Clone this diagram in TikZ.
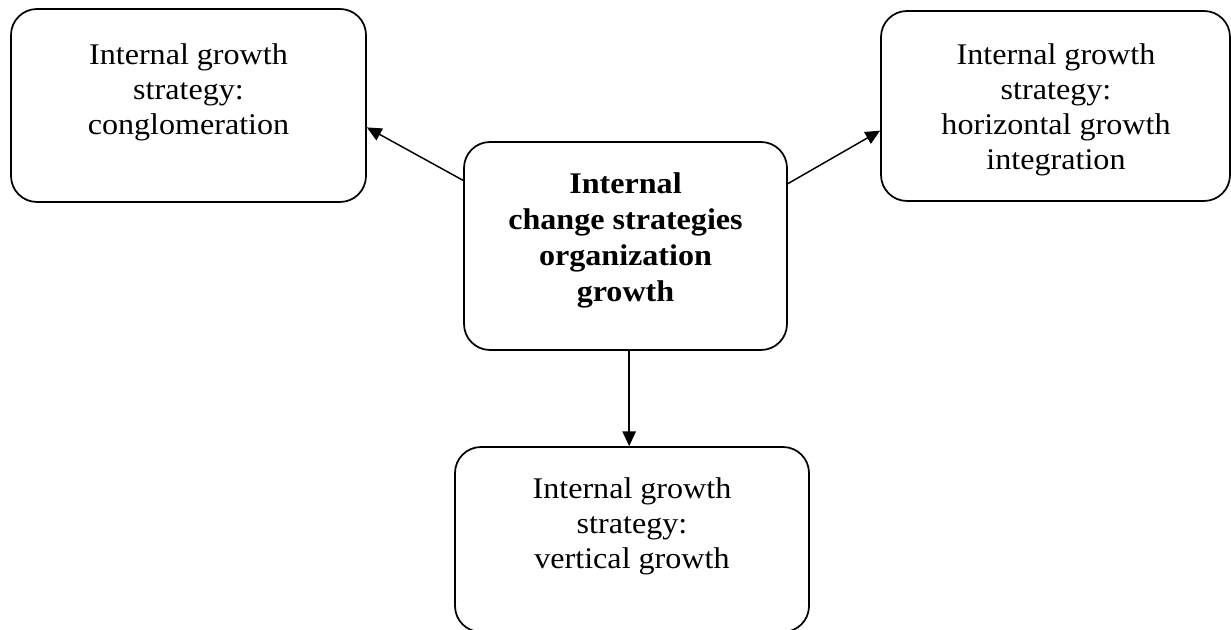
\documentclass[tikz,border=0pt]{standalone}
\usepackage{fontspec}
\setmainfont[FakeStretch=1.07]{Liberation Serif}
\usetikzlibrary{arrows.meta}

\tikzset{every picture/.style={line width=0.75pt}}
\tikzset{
  growthbox/.style={draw, rounded corners=19.5pt, line width=1.3pt, inner sep=0pt},
  growthtext/.style={anchor=north, inner sep=0pt, align=center, font=\fontsize{22.5}{26.3}\selectfont},
  coretext/.style={anchor=north, inner sep=0pt, align=center, font=\fontsize{22.5}{27}\selectfont\bfseries},
  growtharrow/.style={line width=1.1pt, -{Triangle[length=11pt,width=10pt]}}
}

\begin{document}
\begin{tikzpicture}[x=0.75pt,y=0.75pt,yscale=-1,xscale=1]
    \useasboundingbox (0,0) rectangle (1231,630);

    %Shape: Rounded Rect [conglomeration]
    \node [growthbox, minimum width=266.25pt, minimum height=144.75pt] (conglo) at (188.5,105.5) {};
    %Shape: Rounded Rect [horizontal]
    \node [growthbox, minimum width=261.75pt, minimum height=142.5pt] (horiz) at (1055.5,106) {};
    %Shape: Rounded Rect [core]
    \node [growthbox, minimum width=242.25pt, minimum height=156pt] (core) at (625.5,246) {};
    %Shape: Rounded Rect [vertical]
    \node [growthbox, minimum width=265.5pt, minimum height=138.75pt] (vert) at (632,539.5) {};

    %Straight Lines [core to conglomeration]
    \draw [growtharrow] (core.158.1) -- (conglo.-7.9) ;
    %Straight Lines [core to horizontal]
    \draw [growtharrow] (core.21.6) -- (horiz.-172.8) ;
    %Straight Lines [core to vertical]
    \draw [growtharrow] (core.-88.1) -- (core.-88.1 |- vert.north) ;

    % Text Node
    \draw (188.5,43) node [growthtext] (conglotext) {Internal growth\\strategy:\\conglomeration};
    % Text Node
    \draw (1056,43) node [growthtext] (horiztext) {Internal growth\\strategy:\\horizontal growth\\integration};
    % Text Node
    \draw (625.5,172) node [coretext] (coretxt) {Internal\\change strategies\\organization\\growth};
    % Text Node
    \draw (632,477) node [growthtext] (verttext) {Internal growth\\strategy:\\vertical growth};

\end{tikzpicture}
\end{document}
